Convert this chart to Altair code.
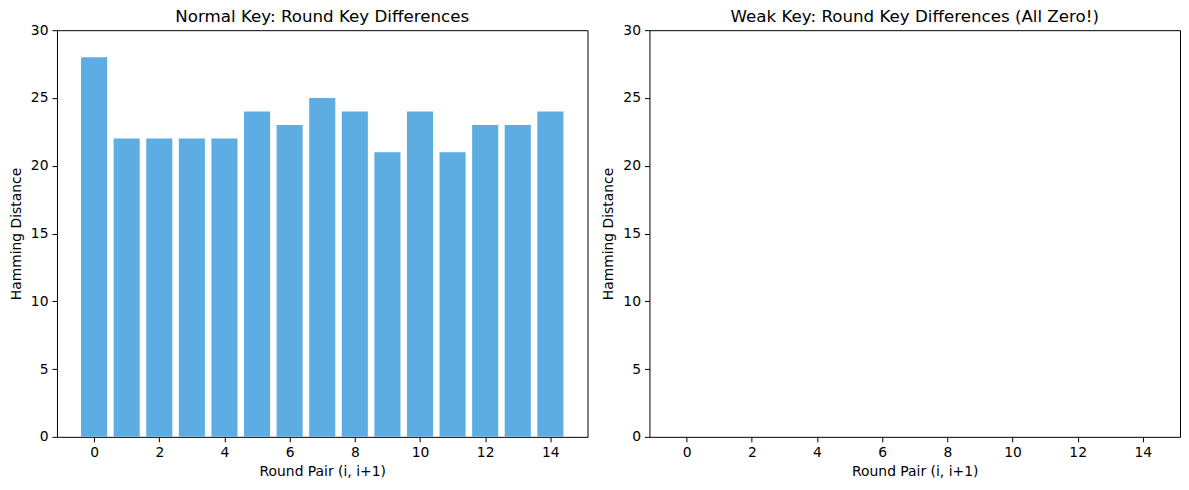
import altair as alt
import pandas as pd

rounds = list(range(15))
normal_dist = [28, 22, 22, 22, 22, 24, 23, 25, 24, 21, 24, 21, 23, 23, 24]
weak_dist = [0] * 15
titles = ["Normal Key: Round Key Differences", "Weak Key: Round Key Differences (All Zero!)"]
x_ticks = [0, 2, 4, 6, 8, 10, 12, 14]
y_ticks = [0, 5, 10, 15, 20, 25, 30]
bar_color = "#5DADE2"


def panel(values, title):
    df = pd.DataFrame({"round": rounds, "dist": values})
    return (
        alt.Chart(df, title=alt.Title(title, fontSize=16.7, fontWeight="normal", font="DejaVu Sans", offset=-3))
        .transform_calculate(x0="datum.round - 0.4", x1="datum.round + 0.4")
        .mark_rect(color=bar_color)
        .encode(
            x=alt.X("x0:Q", title="Round Pair (i, i+1)",
                    scale=alt.Scale(domain=[-1.14, 15.14], nice=False, zero=False),
                    axis=alt.Axis(values=x_ticks, format="d", titlePadding=5)),
            x2="x1:Q",
            y=alt.Y("dist:Q", title="Hamming Distance",
                    scale=alt.Scale(domain=[0, 30], nice=False),
                    axis=alt.Axis(values=y_ticks, format="d", titlePadding=7)),
            y2=alt.datum(0),
        )
        .properties(width=531, height=407)
    )


chart = (
    alt.hconcat(panel(normal_dist, titles[0]), panel(weak_dist, titles[1]), spacing=12)
    .configure_view(stroke="black", strokeWidth=1)
    .configure_axis(
        grid=False,
        domain=False,
        ticks=True,
        tickColor="black",
        tickSize=5,
        tickWidth=1,
        labelColor="black",
        labelFont="DejaVu Sans",
        labelFontSize=13.9,
        labelPadding=4,
        titleFont="DejaVu Sans",
        titleFontSize=13.9,
        titleFontWeight="normal",
        titleColor="black",
    )
    .configure_axisY(labelAngle=0)
    .configure_title(color="black")
    .properties(background="white", padding={"left": 0, "right": 0, "top": 0, "bottom": 0})
)

chart.save("out.html", embed_options={"renderer": "svg", "actions": False})
